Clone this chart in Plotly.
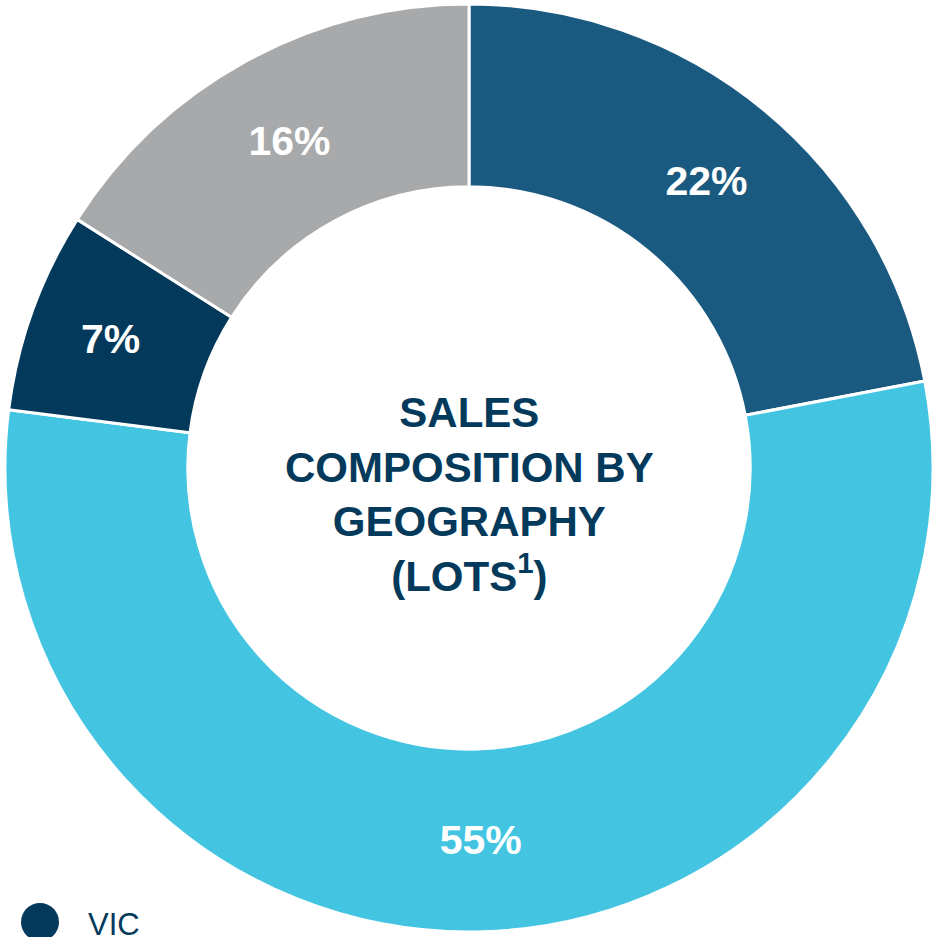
import plotly.graph_objects as go

# Data
regions = ["QLD", "NSW", "VIC", "OTHER"]
shares = [22, 55, 7, 16]
slice_colors = ["#1b5a80", "#43c5e2", "#033a5b", "#a8a9ab"]
center_title = "SALES<br>COMPOSITION BY<br>GEOGRAPHY<br>(LOTS<sup>1</sup>)"
legend_items = ["VIC"]

W, H = 933, 937
navy = "#033a5b"

fig = go.Figure()
fig.add_trace(go.Pie(
    labels=regions,
    values=shares,
    sort=False,
    direction="clockwise",
    rotation=0,
    hole=0.606,
    marker=dict(colors=slice_colors, line=dict(color="white", width=3)),
    texttemplate="%{value}%",
    textposition="inside",
    insidetextorientation="horizontal",
    textfont=dict(family="Liberation Sans", size=41, color="white", weight="bold"),
    showlegend=False,
    hoverinfo="label+percent",
    domain=dict(x=[5 / W, 1], y=[1 - 932 / H, 1 - 4 / H]),
))

fig.add_annotation(
    text=center_title, x=469 / W, y=1 - 494 / H, xref="paper", yref="paper",
    showarrow=False, xanchor="center", yanchor="middle",
    font=dict(family="Liberation Sans", size=42, color=navy, weight="bold"),
)

# Legend (partially visible at bottom)
for item in legend_items:
    idx = regions.index(item)
    fig.add_shape(
        type="circle", xref="paper", yref="paper",
        x0=21 / W, x1=59 / W, y0=1 - 941 / H, y1=1 - 903 / H,
        fillcolor=slice_colors[idx], line=dict(width=0),
    )
    fig.add_annotation(
        text=item, x=86 / W, y=1 - 924 / H, xref="paper", yref="paper",
        showarrow=False, xanchor="left", yanchor="middle",
        font=dict(family="Liberation Sans", size=31, color=navy),
    )

fig.update_layout(
    width=W, height=H,
    margin=dict(l=0, r=0, t=0, b=0),
    paper_bgcolor="white", plot_bgcolor="white",
)

fig.write_html("out.html")
